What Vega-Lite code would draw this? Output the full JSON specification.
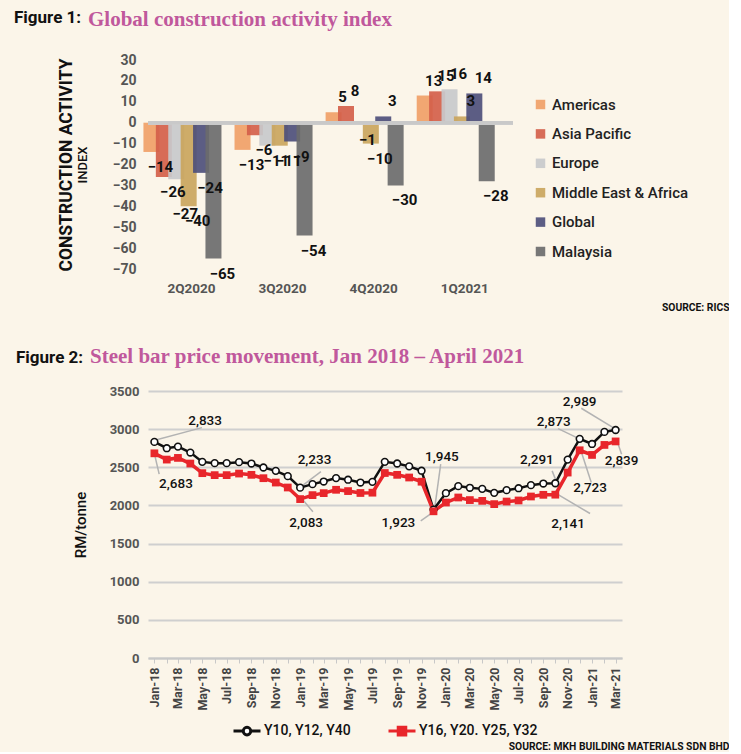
{
  "$schema": "https://vega.github.io/schema/vega-lite/v6.json",
  "background": "#fbf5e9",
  "padding": {"left": 14, "top": 9, "right": 0, "bottom": 0},
  "spacing": 33,
  "config": {"view": {"stroke": null}, "font": "Roboto"},
  "resolve": {
    "scale": {"color": "independent", "fill": "independent", "stroke": "independent", "shape": "independent"},
    "legend": {"color": "independent", "fill": "independent", "stroke": "independent", "shape": "independent"}
  },
  "datasets": {
    "construction": [
      {"quarter": "2Q2020", "region": "Americas", "value": -14},
      {"quarter": "2Q2020", "region": "Asia Pacific", "value": -26},
      {"quarter": "2Q2020", "region": "Europe", "value": -27},
      {"quarter": "2Q2020", "region": "Middle East & Africa", "value": -40},
      {"quarter": "2Q2020", "region": "Global", "value": -24},
      {"quarter": "2Q2020", "region": "Malaysia", "value": -65},
      {"quarter": "3Q2020", "region": "Americas", "value": -13},
      {"quarter": "3Q2020", "region": "Asia Pacific", "value": -6},
      {"quarter": "3Q2020", "region": "Europe", "value": -11},
      {"quarter": "3Q2020", "region": "Middle East & Africa", "value": -11},
      {"quarter": "3Q2020", "region": "Global", "value": -9},
      {"quarter": "3Q2020", "region": "Malaysia", "value": -54},
      {"quarter": "4Q2020", "region": "Americas", "value": 5},
      {"quarter": "4Q2020", "region": "Asia Pacific", "value": 8},
      {"quarter": "4Q2020", "region": "Europe", "value": -1},
      {"quarter": "4Q2020", "region": "Middle East & Africa", "value": -10},
      {"quarter": "4Q2020", "region": "Global", "value": 3},
      {"quarter": "4Q2020", "region": "Malaysia", "value": -30},
      {"quarter": "1Q2021", "region": "Americas", "value": 13},
      {"quarter": "1Q2021", "region": "Asia Pacific", "value": 15},
      {"quarter": "1Q2021", "region": "Europe", "value": 16},
      {"quarter": "1Q2021", "region": "Middle East & Africa", "value": 3},
      {"quarter": "1Q2021", "region": "Global", "value": 14},
      {"quarter": "1Q2021", "region": "Malaysia", "value": -28}
    ],
    "steel": [
      {"date": "2018-01-01", "series": "Y10, Y12, Y40", "value": 2833},
      {"date": "2018-02-01", "series": "Y10, Y12, Y40", "value": 2750},
      {"date": "2018-03-01", "series": "Y10, Y12, Y40", "value": 2771},
      {"date": "2018-04-01", "series": "Y10, Y12, Y40", "value": 2693},
      {"date": "2018-05-01", "series": "Y10, Y12, Y40", "value": 2571},
      {"date": "2018-06-01", "series": "Y10, Y12, Y40", "value": 2554},
      {"date": "2018-07-01", "series": "Y10, Y12, Y40", "value": 2554},
      {"date": "2018-08-01", "series": "Y10, Y12, Y40", "value": 2567},
      {"date": "2018-09-01", "series": "Y10, Y12, Y40", "value": 2549},
      {"date": "2018-10-01", "series": "Y10, Y12, Y40", "value": 2497},
      {"date": "2018-11-01", "series": "Y10, Y12, Y40", "value": 2453},
      {"date": "2018-12-01", "series": "Y10, Y12, Y40", "value": 2384},
      {"date": "2019-01-01", "series": "Y10, Y12, Y40", "value": 2233},
      {"date": "2019-02-01", "series": "Y10, Y12, Y40", "value": 2279},
      {"date": "2019-03-01", "series": "Y10, Y12, Y40", "value": 2313},
      {"date": "2019-04-01", "series": "Y10, Y12, Y40", "value": 2358},
      {"date": "2019-05-01", "series": "Y10, Y12, Y40", "value": 2337},
      {"date": "2019-06-01", "series": "Y10, Y12, Y40", "value": 2300},
      {"date": "2019-07-01", "series": "Y10, Y12, Y40", "value": 2309},
      {"date": "2019-08-01", "series": "Y10, Y12, Y40", "value": 2571},
      {"date": "2019-09-01", "series": "Y10, Y12, Y40", "value": 2550},
      {"date": "2019-10-01", "series": "Y10, Y12, Y40", "value": 2512},
      {"date": "2019-11-01", "series": "Y10, Y12, Y40", "value": 2455},
      {"date": "2019-12-01", "series": "Y10, Y12, Y40", "value": 1945},
      {"date": "2020-01-01", "series": "Y10, Y12, Y40", "value": 2161},
      {"date": "2020-02-01", "series": "Y10, Y12, Y40", "value": 2253},
      {"date": "2020-03-01", "series": "Y10, Y12, Y40", "value": 2231},
      {"date": "2020-04-01", "series": "Y10, Y12, Y40", "value": 2217},
      {"date": "2020-05-01", "series": "Y10, Y12, Y40", "value": 2165},
      {"date": "2020-06-01", "series": "Y10, Y12, Y40", "value": 2200},
      {"date": "2020-07-01", "series": "Y10, Y12, Y40", "value": 2226},
      {"date": "2020-08-01", "series": "Y10, Y12, Y40", "value": 2266},
      {"date": "2020-09-01", "series": "Y10, Y12, Y40", "value": 2287},
      {"date": "2020-10-01", "series": "Y10, Y12, Y40", "value": 2291},
      {"date": "2020-11-01", "series": "Y10, Y12, Y40", "value": 2601},
      {"date": "2020-12-01", "series": "Y10, Y12, Y40", "value": 2873},
      {"date": "2021-01-01", "series": "Y10, Y12, Y40", "value": 2806},
      {"date": "2021-02-01", "series": "Y10, Y12, Y40", "value": 2964},
      {"date": "2021-03-01", "series": "Y10, Y12, Y40", "value": 2989},
      {"date": "2018-01-01", "series": "Y16, Y20. Y25, Y32", "value": 2683},
      {"date": "2018-02-01", "series": "Y16, Y20. Y25, Y32", "value": 2601},
      {"date": "2018-03-01", "series": "Y16, Y20. Y25, Y32", "value": 2623},
      {"date": "2018-04-01", "series": "Y16, Y20. Y25, Y32", "value": 2549},
      {"date": "2018-05-01", "series": "Y16, Y20. Y25, Y32", "value": 2423},
      {"date": "2018-06-01", "series": "Y16, Y20. Y25, Y32", "value": 2397},
      {"date": "2018-07-01", "series": "Y16, Y20. Y25, Y32", "value": 2397},
      {"date": "2018-08-01", "series": "Y16, Y20. Y25, Y32", "value": 2418},
      {"date": "2018-09-01", "series": "Y16, Y20. Y25, Y32", "value": 2401},
      {"date": "2018-10-01", "series": "Y16, Y20. Y25, Y32", "value": 2357},
      {"date": "2018-11-01", "series": "Y16, Y20. Y25, Y32", "value": 2300},
      {"date": "2018-12-01", "series": "Y16, Y20. Y25, Y32", "value": 2235},
      {"date": "2019-01-01", "series": "Y16, Y20. Y25, Y32", "value": 2083},
      {"date": "2019-02-01", "series": "Y16, Y20. Y25, Y32", "value": 2135},
      {"date": "2019-03-01", "series": "Y16, Y20. Y25, Y32", "value": 2161},
      {"date": "2019-04-01", "series": "Y16, Y20. Y25, Y32", "value": 2205},
      {"date": "2019-05-01", "series": "Y16, Y20. Y25, Y32", "value": 2188},
      {"date": "2019-06-01", "series": "Y16, Y20. Y25, Y32", "value": 2163},
      {"date": "2019-07-01", "series": "Y16, Y20. Y25, Y32", "value": 2167},
      {"date": "2019-08-01", "series": "Y16, Y20. Y25, Y32", "value": 2425},
      {"date": "2019-09-01", "series": "Y16, Y20. Y25, Y32", "value": 2401},
      {"date": "2019-10-01", "series": "Y16, Y20. Y25, Y32", "value": 2366},
      {"date": "2019-11-01", "series": "Y16, Y20. Y25, Y32", "value": 2311},
      {"date": "2019-12-01", "series": "Y16, Y20. Y25, Y32", "value": 1923},
      {"date": "2020-01-01", "series": "Y16, Y20. Y25, Y32", "value": 2038},
      {"date": "2020-02-01", "series": "Y16, Y20. Y25, Y32", "value": 2104},
      {"date": "2020-03-01", "series": "Y16, Y20. Y25, Y32", "value": 2070},
      {"date": "2020-04-01", "series": "Y16, Y20. Y25, Y32", "value": 2060},
      {"date": "2020-05-01", "series": "Y16, Y20. Y25, Y32", "value": 2017},
      {"date": "2020-06-01", "series": "Y16, Y20. Y25, Y32", "value": 2051},
      {"date": "2020-07-01", "series": "Y16, Y20. Y25, Y32", "value": 2065},
      {"date": "2020-08-01", "series": "Y16, Y20. Y25, Y32", "value": 2117},
      {"date": "2020-09-01", "series": "Y16, Y20. Y25, Y32", "value": 2139},
      {"date": "2020-10-01", "series": "Y16, Y20. Y25, Y32", "value": 2141},
      {"date": "2020-11-01", "series": "Y16, Y20. Y25, Y32", "value": 2431},
      {"date": "2020-12-01", "series": "Y16, Y20. Y25, Y32", "value": 2723},
      {"date": "2021-01-01", "series": "Y16, Y20. Y25, Y32", "value": 2662},
      {"date": "2021-02-01", "series": "Y16, Y20. Y25, Y32", "value": 2793},
      {"date": "2021-03-01", "series": "Y16, Y20. Y25, Y32", "value": 2839}
    ],
    "notes": [
      {"label": "2,833", "tx": "2018-05-08", "ty": 3108, "x1": "2018-01-02", "y1": 2855, "x2": "2018-04-30", "y2": 3020},
      {"label": "2,683", "tx": "2018-02-24", "ty": 2287, "x1": "2018-01-01", "y1": 2680, "x2": "2018-01-13", "y2": 2410},
      {"label": "2,233", "tx": "2019-02-06", "ty": 2593, "x1": "2018-12-31", "y1": 2234, "x2": "2019-02-22", "y2": 2444},
      {"label": "2,083", "tx": "2019-01-16", "ty": 1768, "x1": "2019-01-03", "y1": 2104, "x2": "2019-02-02", "y2": 1916},
      {"label": "1,945", "tx": "2019-12-22", "ty": 2636, "x1": "2019-12-19", "y1": 2541, "x2": "2019-12-03", "y2": 1929},
      {"label": "1,923", "tx": "2019-09-04", "ty": 1768, "x1": "2019-10-30", "y1": 1799, "x2": "2019-12-01", "y2": 1916},
      {"label": "2,291", "tx": "2020-08-16", "ty": 2597, "x1": "2020-09-23", "y1": 2453, "x2": "2020-10-03", "y2": 2322},
      {"label": "2,141", "tx": "2020-11-02", "ty": 1755, "x1": "2020-12-27", "y1": 1894, "x2": "2020-10-06", "y2": 2148},
      {"label": "2,873", "tx": "2020-09-27", "ty": 3095, "x1": "2020-10-08", "y1": 3007, "x2": "2020-11-24", "y2": 2889},
      {"label": "2,723", "tx": "2020-12-27", "ty": 2234, "x1": "2020-12-30", "y1": 2300, "x2": "2020-12-03", "y2": 2737},
      {"label": "2,989", "tx": "2020-12-01", "ty": 3360, "x1": "2020-12-05", "y1": 3274, "x2": "2021-02-25", "y2": 3012},
      {"label": "2,839", "tx": "2021-03-16", "ty": 2584, "x1": "2021-03-16", "y1": 2672, "x2": "2021-03-06", "y2": 2824}
    ]
  },
  "vconcat": [
    {
      "title": {
        "text": "Global construction activity index",
        "anchor": "start", "frame": "group", "dx": -60, "dy": 21, "offset": 0,
        "font": "Liberation Serif", "fontSize": 21, "fontWeight": "bold", "color": "#c0589c"
      },
      "vconcat": [
        {
          "width": 365,
          "height": 209,
          "title": {
            "text": "Figure 1:", "anchor": "start", "frame": "group", "dx": -134, "offset": 26,
            "font": "Roboto", "fontSize": 17, "fontWeight": "bold", "color": "#111111"
          },
          "data": {"name": "construction"},
          "layer": [
            {
              "mark": {"type": "bar", "width": {"band": 1.29}, "opacity": 0.92},
              "encoding": {
                "x": {
                  "field": "quarter", "type": "nominal", "sort": null,
                  "scale": {"paddingInner": 0.183, "paddingOuter": 0.095, "align": 0.36},
                  "axis": {
                    "title": "SOURCE: RICS", "domain": false, "ticks": false, "labelAngle": 0,
                    "labelFontSize": 13.5, "labelFontWeight": "bold", "labelColor": "#555555", "labelPadding": 12,
                    "titleFontSize": 10.3, "titleFontWeight": "bold", "titleColor": "#111111",
                    "titleAnchor": "end", "titleAlign": "right", "titleX": 581, "titleY": 38, "titleBaseline": "middle"
                  }
                },
                "xOffset": {
                  "field": "region", "type": "nominal",
                  "sort": ["Americas", "Asia Pacific", "Europe", "Middle East & Africa", "Global", "Malaysia"],
                  "scale": {"paddingInner": 0, "paddingOuter": 0}
                },
                "y": {
                  "field": "value", "type": "quantitative",
                  "scale": {"domain": [-70, 30], "nice": false},
                  "axis": {
                    "title": "CONSTRUCTION ACTIVITY", "values": [-70, -60, -50, -40, -30, -20, -10, 0, 10, 20, 30],
                    "domain": false, "ticks": false, "grid": false, "orient": "left",
                    "labelFontSize": 14, "labelFontWeight": "bold", "labelColor": "#555555", "labelPadding": 12,
                    "titleFontSize": 17.5, "titleFontWeight": "bold", "titleColor": "#111111", "titlePadding": 37
                  }
                },
                "color": {
                  "field": "region", "type": "nominal",
                  "scale": {
                    "domain": ["Americas", "Asia Pacific", "Europe", "Middle East & Africa", "Global", "Malaysia"],
                    "range": ["#f0a067", "#d4604a", "#c8c9cb", "#caa55d", "#4e4f7b", "#6b6b6d"]
                  },
                  "legend": {
                    "title": null, "orient": "none", "legendX": 385, "legendY": 37, "direction": "vertical",
                    "symbolType": "square", "symbolSize": 90, "symbolStrokeWidth": 0,
                    "labelFontSize": 15, "labelFontWeight": 500, "labelColor": "#222222",
                    "rowPadding": 13.4, "labelOffset": 4, "padding": 0
                  }
                }
              }
            },
            {
              "mark": {"type": "rule", "color": "#c9c9c9", "strokeWidth": 3},
              "encoding": {
                "y": {
                  "datum": 0, "type": "quantitative",
                  "axis": {
                    "title": "INDEX", "orient": "left", "labels": false, "ticks": false, "domain": false, "grid": false,
                    "titleFontSize": 13, "titleFontWeight": 500, "titleColor": "#111111", "titlePadding": 59
                  }
                }
              }
            },
            {
              "transform": [{"filter": "datum.value < 0 && !(datum.quarter == '2Q2020' && datum.region == 'Europe')"}],
              "mark": {"type": "text", "dy": 15, "fontSize": 15, "fontWeight": "bold", "color": "#111111", "baseline": "middle"},
              "encoding": {
                "x": {"field": "quarter", "type": "nominal", "sort": null},
                "xOffset": {"field": "region", "type": "nominal", "sort": ["Americas", "Asia Pacific", "Europe", "Middle East & Africa", "Global", "Malaysia"]},
                "y": {"field": "value", "type": "quantitative", "axis": null},
                "text": {"field": "value", "type": "quantitative", "format": "d"}
              }
            },
            {
              "transform": [{"filter": "datum.quarter == '2Q2020' && datum.region == 'Europe'"}],
              "mark": {"type": "text", "dy": 35, "fontSize": 15, "fontWeight": "bold", "color": "#111111", "baseline": "middle"},
              "encoding": {
                "x": {"field": "quarter", "type": "nominal", "sort": null},
                "xOffset": {"field": "region", "type": "nominal", "sort": ["Americas", "Asia Pacific", "Europe", "Middle East & Africa", "Global", "Malaysia"]},
                "y": {"field": "value", "type": "quantitative", "axis": null},
                "text": {"field": "value", "type": "quantitative", "format": "d"}
              }
            },
            {
              "transform": [{"filter": "datum.value >= 0"}],
              "mark": {"type": "text", "dy": -15, "fontSize": 15, "fontWeight": "bold", "color": "#111111", "baseline": "middle"},
              "encoding": {
                "x": {"field": "quarter", "type": "nominal", "sort": null},
                "xOffset": {"field": "region", "type": "nominal", "sort": ["Americas", "Asia Pacific", "Europe", "Middle East & Africa", "Global", "Malaysia"]},
                "y": {"field": "value", "type": "quantitative", "axis": null},
                "text": {"field": "value", "type": "quantitative", "format": "d"}
              }
            }
          ],
          "resolve": {"axis": {"y": "independent"}}
        }
      ]
    },
    {
      "title": {
        "text": "Steel bar price movement, Jan 2018 \u2013 April 2021",
        "anchor": "start", "frame": "group", "dx": -58, "dy": 18, "offset": 0,
        "font": "Liberation Serif", "fontSize": 21, "fontWeight": "bold", "color": "#c0589c"
      },
      "vconcat": [
        {
          "width": 474,
          "height": 267,
          "title": {
            "text": "Figure 2:", "anchor": "start", "frame": "group", "dx": -132, "offset": 18,
            "font": "Roboto", "fontSize": 17, "fontWeight": "bold", "color": "#111111"
          },
          "encoding": {
            "x": {
              "type": "temporal",
              "scale": {"type": "utc", "domain": [{"year": 2017, "month": 12, "date": 16, "utc": true}, {"year": 2021, "month": 3, "date": 17, "utc": true}]},
              "axis": {
                "title": "SOURCE: MKH BUILDING MATERIALS SDN BHD",
                "tickCount": {"interval": "month", "step": 1},
                "labelExpr": "indexof(['Jan','Mar','May','Jul','Sep','Nov'], utcFormat(datum.value, '%b')) >= 0 ? utcFormat(datum.value, '%b-%y') : ''",
                "labelAngle": 270, "labelAlign": "right", "labelBaseline": "middle",
                "labelFontSize": 12.5, "labelFontWeight": "bold", "labelColor": "#444444", "labelPadding": 4,
                "labelOverlap": false, "labelFlush": false,
                "domainColor": "#c8c8c8", "domainWidth": 2, "tickColor": "#c8c8c8", "tickSize": 5, "tickWidth": 1, "grid": false,
                "titleFontSize": 10.3, "titleFontWeight": "bold", "titleColor": "#111111",
                "titleAnchor": "end", "titleAlign": "right", "titleX": 581, "titleY": 88, "titleBaseline": "middle"
              }
            },
            "y": {
              "type": "quantitative",
              "scale": {"domain": [0, 3500], "nice": false},
              "axis": {
                "title": "RM/tonne", "values": [0, 500, 1000, 1500, 2000, 2500, 3000, 3500], "format": "d",
                "domain": false, "ticks": false, "grid": true, "gridColor": "#cfcfcf", "gridWidth": 2,
                "labelFontSize": 13, "labelFontWeight": "bold", "labelColor": "#555555", "labelPadding": 9,
                "titleFontSize": 15, "titleFontWeight": 500, "titleColor": "#111111", "titlePadding": 21
              }
            }
          },
          "layer": [
            {
              "data": {"name": "notes"},
              "mark": {"type": "rule", "color": "#b3b3b3", "strokeWidth": 1.5},
              "encoding": {
                "x": {"field": "x1", "type": "temporal"},
                "y": {"field": "y1", "type": "quantitative"},
                "x2": {"field": "x2"},
                "y2": {"field": "y2"}
              }
            },
            {
              "data": {"name": "notes"},
              "mark": {"type": "text", "fontSize": 13.5, "fontWeight": 500, "color": "#111111", "baseline": "middle"},
              "encoding": {
                "x": {"field": "tx", "type": "temporal"},
                "y": {"field": "ty", "type": "quantitative"},
                "text": {"field": "label"}
              }
            },
            {
              "data": {"name": "steel"},
              "transform": [{"filter": "datum.series == 'Y10, Y12, Y40'"}],
              "mark": {"type": "line", "color": "#111111", "strokeWidth": 2.5},
              "encoding": {
                "x": {"field": "date", "type": "temporal"},
                "y": {"field": "value", "type": "quantitative"}
              }
            },
            {
              "data": {"name": "steel"},
              "transform": [{"filter": "datum.series == 'Y16, Y20. Y25, Y32'"}],
              "mark": {"type": "line", "color": "#e8262b", "strokeWidth": 3.5},
              "encoding": {
                "x": {"field": "date", "type": "temporal"},
                "y": {"field": "value", "type": "quantitative"}
              }
            },
            {
              "data": {"name": "steel"},
              "transform": [{"filter": "datum.series == 'Y10, Y12, Y40'"}],
              "mark": {"type": "point", "shape": "circle", "filled": true, "fill": "#ffffff", "stroke": "#111111", "strokeWidth": 1.6, "size": 45, "opacity": 1},
              "encoding": {
                "x": {"field": "date", "type": "temporal"},
                "y": {"field": "value", "type": "quantitative"}
              }
            },
            {
              "data": {"name": "steel"},
              "transform": [{"filter": "datum.series == 'Y16, Y20. Y25, Y32'"}],
              "mark": {"type": "square", "color": "#e8262b", "size": 60, "opacity": 1},
              "encoding": {
                "x": {"field": "date", "type": "temporal"},
                "y": {"field": "value", "type": "quantitative"}
              }
            },
            {
              "data": {"name": "steel"},
              "transform": [{"filter": "datum.value < 0"}],
              "mark": {"type": "point", "filled": true},
              "encoding": {
                "x": {"field": "date", "type": "temporal"},
                "y": {"field": "value", "type": "quantitative"},
                "shape": {
                  "field": "series", "type": "nominal",
                  "scale": {"domain": ["Y10, Y12, Y40", "Y16, Y20. Y25, Y32"], "range": ["M-1,0L-0.28,0M0.28,0A0.28,0.28,0,1,1,-0.28,0A0.28,0.28,0,1,1,0.28,0M0.28,0L1,0", "M-1,0L1,0M-0.28,-0.28L0.28,-0.28L0.28,0.28L-0.28,0.28Z"]},
                  "legend": {"title": null, "orient": "none", "legendX": 84, "legendY": 325, "direction": "horizontal", "symbolSize": 729, "symbolStrokeWidth": 3, "symbolOpacity": 1, "labelFontSize": 14, "labelFontWeight": 500, "labelColor": "#111111", "labelOffset": 2, "columnPadding": 31, "padding": 0}
                },
                "fill": {
                  "field": "series", "type": "nominal",
                  "scale": {"domain": ["Y10, Y12, Y40", "Y16, Y20. Y25, Y32"], "range": ["#ffffff", "#e8262b"]},
                  "legend": {"title": null, "orient": "none", "legendX": 84, "legendY": 325, "direction": "horizontal", "symbolSize": 729, "symbolStrokeWidth": 3, "symbolOpacity": 1, "labelFontSize": 14, "labelFontWeight": 500, "labelColor": "#111111", "labelOffset": 2, "columnPadding": 31, "padding": 0}
                },
                "stroke": {
                  "field": "series", "type": "nominal",
                  "scale": {"domain": ["Y10, Y12, Y40", "Y16, Y20. Y25, Y32"], "range": ["#111111", "#e8262b"]},
                  "legend": {"title": null, "orient": "none", "legendX": 84, "legendY": 325, "direction": "horizontal", "symbolSize": 729, "symbolStrokeWidth": 3, "symbolOpacity": 1, "labelFontSize": 14, "labelFontWeight": 500, "labelColor": "#111111", "labelOffset": 2, "columnPadding": 31, "padding": 0}
                }
              }
            }
          ]
        }
      ]
    }
  ]
}
